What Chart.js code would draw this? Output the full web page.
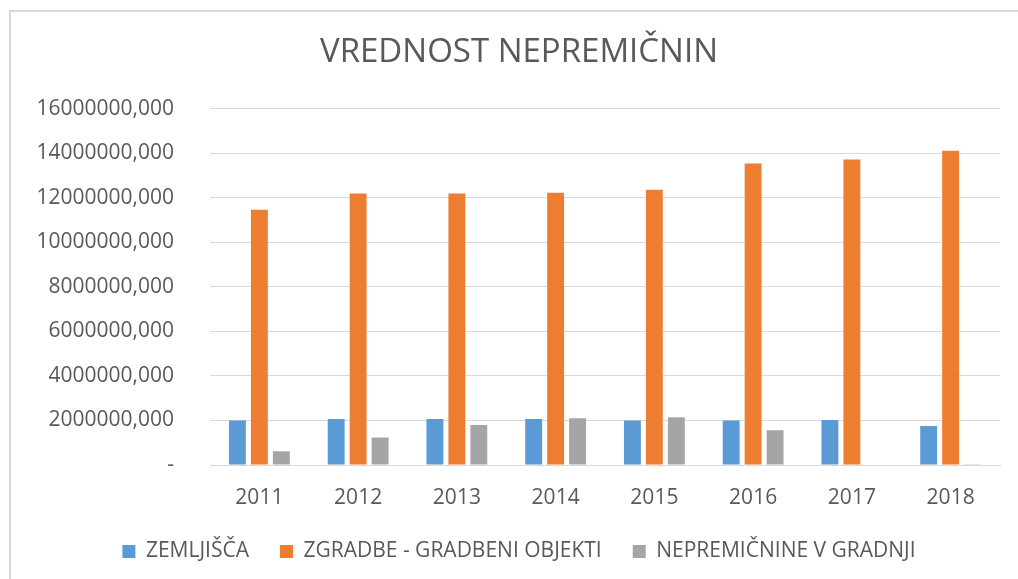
<!DOCTYPE html>
<html>
<head>
<meta charset="utf-8">
<script src="https://cdn.jsdelivr.net/npm/chart.js@4"></script>
<style>
  html, body { margin: 0; padding: 0; background: #fff; }
  #wrap { position: relative; width: 1018px; height: 579px; }
  #frame { position: absolute; left: 9px; top: 10px; width: 1100px; height: 700px; border-left: 2px solid #d9d9d9; border-top: 2px solid #d9d9d9; box-sizing: border-box; pointer-events: none; }
  canvas { position: absolute; left: 0; top: 0; }
</style>
</head>
<body>
<div id="wrap">
  <canvas id="c" width="1018" height="579"></canvas>
  <div id="frame"></div>
</div>
<script>
const years = ['2011', '2012', '2013', '2014', '2015', '2016', '2017', '2018'];
const zemljisca = [2000000, 2070000, 2070000, 2070000, 2000000, 2000000, 2020000, 1750000];
const zgradbe = [11460000, 12190000, 12190000, 12220000, 12360000, 13530000, 13710000, 14110000];
const vGradnji = [620000, 1240000, 1800000, 2100000, 2140000, 1560000, 25000, 15000];
const seriesNames = ['ZEMLJIŠČA', 'ZGRADBE - GRADBENI OBJEKTI', 'NEPREMIČNINE V GRADNJI'];
const yTicks = [0, 2000000, 4000000, 6000000, 8000000, 10000000, 12000000, 14000000, 16000000];

const FONT = "'Open Sans', 'Noto Sans', sans-serif";
const GREY = '#595959';

new Chart(document.getElementById('c'), {
  type: 'bar',
  data: {
    labels: years,
    datasets: [
      { label: seriesNames[0], data: zemljisca, backgroundColor: '#5b9bd5' },
      { label: seriesNames[1], data: zgradbe, backgroundColor: '#ed7d31' },
      { label: seriesNames[2], data: vGradnji, backgroundColor: '#a5a5a5' }
    ]
  },
  options: {
    responsive: false,
    animation: false,
    devicePixelRatio: 1,
    categoryPercentage: 0.667,
    barPercentage: 0.77,
    layout: { padding: { left: 38, right: 18, top: 0, bottom: 7 } },
    plugins: {
      title: {
        display: true,
        text: 'VREDNOST NEPREMIČNIN',
        color: GREY,
        font: { family: FONT, size: 33, weight: 'normal' },
        padding: { top: 33, bottom: 36 }
      },
      legend: {
        position: 'bottom',
        labels: {
          color: GREY,
          font: { family: FONT, size: 21 },
          boxWidth: 13,
          boxHeight: 13,
          padding: 31
        }
      },
      tooltip: { enabled: false }
    },
    scales: {
      x: {
        afterFit: (axis) => { axis.height = 45; },
        grid: { display: false, drawTicks: false },
        border: { display: true, color: '#d9d9d9', width: 1 },
        ticks: { color: GREY, font: { family: FONT, size: 21 }, padding: 20 }
      },
      y: {
        min: 0,
        max: 16000000,
        afterBuildTicks: (axis) => { axis.ticks = yTicks.map(v => ({ value: v })); },
        afterFit: (axis) => { axis.width = 172; },
        grid: { color: '#d9d9d9', lineWidth: 1, drawTicks: false },
        border: { display: false },
        ticks: {
          color: GREY,
          font: { family: FONT, size: 21 },
          padding: 36,
          callback: (v) => v === 0 ? '-' : String(v) + ',000'
        }
      }
    }
  }
});
</script>
</body>
</html>
